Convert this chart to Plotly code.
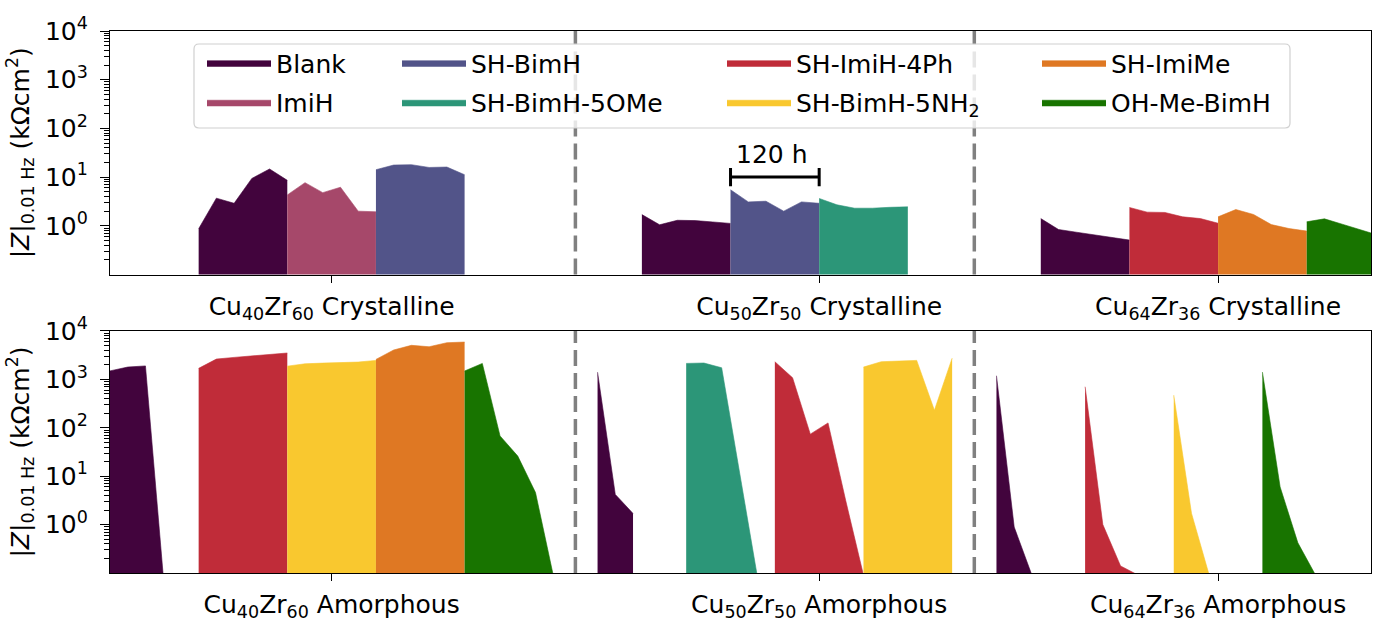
import plotly.graph_objects as go
from plotly.subplots import make_subplots

# ---------------- data ----------------
# sampling times within one 120 h exposure window (one EIS point per day)
sample_hours = [0, 24, 48, 72, 96, 120]

series_names = ["Blank", "ImiH", "SH-BimH", "SH-BimH-5OMe",
                "SH-ImiH-4Ph", "SH-BimH-5NH2", "SH-ImiMe", "OH-Me-BimH"]
legend_text = ["Blank", "ImiH", "SH-BimH", "SH-BimH-5OMe",
               "SH-ImiH-4Ph", "SH-BimH-5NH<sub>2</sub>", "SH-ImiMe", "OH-Me-BimH"]
series_colors = ["#42043d", "#a6486a", "#525489", "#2c9678",
                 "#c02c39", "#f9c82f", "#df7823", "#187400"]

group_centers = [300, 960, 1500]
cryst_tick_text = ["Cu<sub>40</sub>Zr<sub>60</sub> Crystalline",
                   "Cu<sub>50</sub>Zr<sub>50</sub> Crystalline",
                   "Cu<sub>64</sub>Zr<sub>36</sub> Crystalline"]
amorph_tick_text = ["Cu<sub>40</sub>Zr<sub>60</sub> Amorphous",
                    "Cu<sub>50</sub>Zr<sub>50</sub> Amorphous",
                    "Cu<sub>64</sub>Zr<sub>36</sub> Amorphous"]
separators = [630, 1170]

# Crystalline alloys (top panel): inhibitor, exposure start (h), |Z| (kOhm cm^2)
cryst_series = ["Blank", "ImiH", "SH-BimH",
                "Blank", "SH-BimH", "SH-BimH-5OMe",
                "Blank", "SH-ImiH-4Ph", "SH-ImiMe", "OH-Me-BimH"]
cryst_start = [120, 240, 360, 720, 840, 960, 1260, 1380, 1500, 1620]
cryst_z = [
    [0.87, 3.7, 2.9, 9.4, 14.7, 8.6],
    [4.3, 7.7, 4.8, 6.2, 2.0, 1.94],
    [14.2, 17.7, 18.0, 15.8, 16.1, 11.2],
    [1.7, 1.05, 1.3, 1.28, 1.2, 1.12],
    [5.5, 3.1, 3.2, 2.0, 3.1, 2.9],
    [3.65, 2.7, 2.3, 2.3, 2.4, 2.45],
    [1.41, 0.84, 0.74, 0.65, 0.59, 0.51],
    [2.38, 1.91, 1.88, 1.53, 1.41, 1.13],
    [1.53, 2.16, 1.71, 1.06, 0.88, 0.78],
    [1.21, 1.39, 1.08, 0.83, 0.64, 0.5],
]

# Amorphous alloys (bottom panel)
amorph_series = ["Blank", "SH-ImiH-4Ph", "SH-BimH-5NH2", "SH-ImiMe", "OH-Me-BimH",
                 "Blank", "SH-BimH-5OMe", "SH-ImiH-4Ph", "SH-BimH-5NH2",
                 "Blank", "SH-ImiH-4Ph", "SH-BimH-5NH2", "OH-Me-BimH"]
amorph_start = [0, 120, 240, 360, 480, 660, 780, 900, 1020, 1200, 1320, 1440, 1560]
amorph_z = [
    [1500, 1800, 1900, 0.09],
    [1690, 2630, 2850, 3090, 3340, 3510],
    [1880, 2100, 2170, 2240, 2280, 2470],
    [2590, 4050, 5060, 4730, 5730, 5910],
    [1490, 2140, 68, 26, 4.6, 0.09],
    [1410, 4.2, 1.7],
    [2140, 2180, 1740, 12, 0.09],
    [2320, 1080, 74, 126, 3.1, 0.09],
    [1800, 2320, 2390, 2470, 230, 2750],
    [1190, 0.89, 0.09],
    [705, 1.0, 0.14, 0.09],
    [473, 1.72, 0.09],
    [1415, 6.0, 0.42, 0.09],
]

scale_bar_hours = [840, 960]
scale_bar_z = [10, 10]

# ---------------- figure ----------------
FS = 25
fig = make_subplots(rows=2, cols=1)

legend_ids = ["legend", "legend2", "legend3", "legend4"]
panels = [(cryst_series, cryst_start, cryst_z, 1),
          (amorph_series, amorph_start, amorph_z, 2)]

for si, name in enumerate(series_names):
    color = series_colors[si]
    shown = False
    for ser, starts, zs, row in panels:
        for k, s in enumerate(ser):
            if s != name:
                continue
            vals = zs[k]
            xs = [starts[k] + h for h in sample_hours[:len(vals)]]
            fig.add_trace(go.Scatter(
                x=xs, y=vals, mode="lines", fill="tozeroy",
                line=dict(color=color, width=0.6), fillcolor=color,
                name=legend_text[si], legendgroup=name,
                legend=legend_ids[si // 2],
                showlegend=not shown, hoverinfo="skip"),
                row=row, col=1)
            shown = True

# 120 h scale bar
fig.add_trace(go.Scatter(
    x=scale_bar_hours, y=scale_bar_z, mode="lines+markers",
    line=dict(color="black", width=3),
    marker=dict(symbol="line-ns", size=13, line=dict(color="black", width=3)),
    showlegend=False, hoverinfo="skip"), row=1, col=1)
fig.add_annotation(x=sum(scale_bar_hours) / 2, y=1, xref="x", yref="y",
                   text="120 h", showarrow=False, yanchor="middle", yshift=23,
                   xshift=-3, font=dict(size=FS, color="black"))

minor_vals = [m * 10 ** e for e in range(-1, 4) for m in range(2, 10)]
ytitle = "|<i>Z</i>|<sub>0.01 Hz</sub> (kΩcm<sup>2</sup>)"
ytick_text = ["10<sup>0</sup>", "10<sup>1</sup>", "10<sup>2</sup>", "10<sup>3</sup>", "10<sup>4</sup>"]

yax = dict(type="log", range=[-1, 4], tickmode="array",
           tickvals=[1, 10, 100, 1000, 10000], ticktext=ytick_text,
           ticks="outside", ticklen=9, tickwidth=1.3, tickcolor="black",
           minor=dict(tickmode="array", tickvals=minor_vals, ticks="outside",
                      ticklen=5, tickwidth=1, tickcolor="black", showgrid=False),
           showline=True, linecolor="black", linewidth=1.3, mirror=True,
           showgrid=False, zeroline=False, ticklabelstandoff=7,
           tickfont=dict(size=FS),
           title=dict(text=ytitle, font=dict(size=FS), standoff=8))
xax = dict(range=[0, 1707], tickmode="array", tickvals=group_centers,
           ticks="outside", ticklen=7, tickwidth=1.3, tickcolor="black",
           showline=True, linecolor="black", linewidth=1.3, mirror=True,
           showgrid=False, zeroline=False, ticklabelstandoff=2,
           tickfont=dict(size=FS))

fig.update_xaxes(**xax)
fig.update_yaxes(**yax)
fig.update_layout(
    xaxis=dict(ticktext=cryst_tick_text, domain=[0, 1]),
    xaxis2=dict(ticktext=amorph_tick_text, domain=[0, 1]),
    yaxis=dict(domain=[0.5507, 1.0]),
    yaxis2=dict(domain=[0.0, 0.4465]),
)

# dashed separators between alloy groups
for yref in ["y domain", "y2 domain"]:
    xref = "x" if yref == "y domain" else "x2"
    for sx in separators:
        fig.add_shape(type="line", x0=sx, x1=sx, y0=0, y1=1, xref=xref, yref=yref,
                      line=dict(color="#808080", width=3.5, dash="16px,7px"))

# legend frame
lx0, lx1, ly0, ly1 = (194 - 110) / 1261, (1290 - 110) / 1261, (573 - 128) / 542, (573 - 44) / 542
rx, ry = 5 / 1261, 5 / 542
path = (f"M{lx0+rx},{ly0} L{lx1-rx},{ly0} Q{lx1},{ly0} {lx1},{ly0+ry} "
        f"L{lx1},{ly1-ry} Q{lx1},{ly1} {lx1-rx},{ly1} L{lx0+rx},{ly1} "
        f"Q{lx0},{ly1} {lx0},{ly1-ry} L{lx0},{ly0+ry} Q{lx0},{ly0} {lx0+rx},{ly0} Z")
fig.add_shape(type="path", path=path, xref="paper", yref="paper",
              line=dict(color="#d0d0d0", width=1.2), fillcolor="rgba(255,255,255,0.8)",
              layer="above")

ITEMW = 64
text_px = [278, 473, 798, 1113]
leg_common = dict(bgcolor="rgba(0,0,0,0)", borderwidth=0, font=dict(size=FS, color="black"),
                  orientation="v", xanchor="left", yanchor="top", itemwidth=ITEMW,
                  tracegroupgap=4, itemclick=False, itemdoubleclick=False)
layout_legends = {}
for i, lid in enumerate(legend_ids):
    layout_legends[lid] = dict(x=(text_px[i] - ITEMW - 12 - 110) / 1261, y=(573 - 40) / 542, **leg_common)
fig.update_layout(**layout_legends)

fig.update_layout(
    width=1373, height=623,
    margin=dict(l=110, r=2, t=31, b=50),
    plot_bgcolor="white", paper_bgcolor="white",
    font=dict(family="DejaVu Sans", size=FS, color="black"),
)

fig.write_html("out.html")
